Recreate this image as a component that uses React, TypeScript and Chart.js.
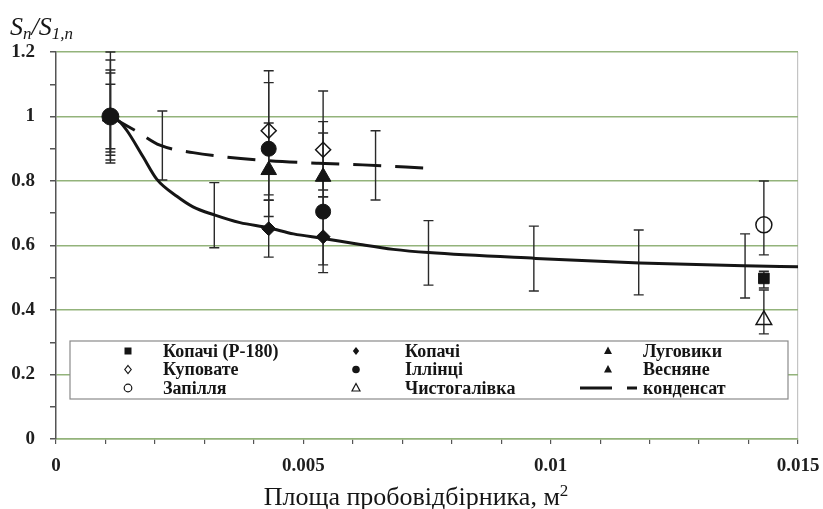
import React, { useEffect, useRef } from "react";
import { Chart, registerables } from "chart.js";
Chart.register(...registerables);

// ---------- data ----------
const seriesNames = [
  "Копачі (Р-180)", "Куповате", "Запілля",
  "Копачі", "Іллінці", "Чистогалівка",
  "Луговики", "Весняне", "конденсат",
];

const xTickLabelsEvery = 0.005;

const kopachiR180X = [0.01431];
const kopachiR180Y = [0.498];
const kopachiR180Lo = [0.468];
const kopachiR180Hi = [0.52];

const kupovateX = [0.0011, 0.0043, 0.0054];
const kupovateY = [1.0, 0.956, 0.897];
const kupovateLo = [0.9, 0.757, 0.772];
const kupovateHi = [1.1, 1.142, 1.079];

const zapilliaX = [0.01431];
const zapilliaY = [0.664];
const zapilliaLo = [0.571];
const zapilliaHi = [0.8];

const kopachiX = [0.0011, 0.0043, 0.0054];
const kopachiY = [1.0, 0.652, 0.627];
const kopachiLo = [0.865, 0.564, 0.516];
const kopachiHi = [1.144, 0.74, 0.751];

const illintsiX = [0.0011, 0.0043, 0.0054];
const illintsiY = [1.0, 0.9, 0.705];
const illintsiLo = [0.856, 0.741, 0.54];
const illintsiHi = [1.2, 1.105, 0.984];

const chystohalivkaX = [0.01431];
const chystohalivkaY = [0.369];
const chystohalivkaLo = [0.326];
const chystohalivkaHi = [0.462];

const luhovykyX = [0.0011, 0.0043];
const luhovykyY = [1.0, 0.834];
const luhovykyLo = [0.88, 0.69];
const luhovykyHi = [1.175, 0.98];

const vesnianeX = [0.0011, 0.0054];
const vesnianeY = [1.0, 0.813];
const vesnianeLo = [0.89, 0.751];
const vesnianeHi = [1.135, 0.949];

// condensate error bars on the solid curve
const condSolidBarX = [0.0032, 0.00753, 0.00966, 0.01178, 0.01393];
const condSolidBarY = [0.694, 0.577, 0.56, 0.547, 0.537];
const condSolidBarLo = [0.593, 0.477, 0.459, 0.447, 0.437];
const condSolidBarHi = [0.795, 0.677, 0.66, 0.648, 0.636];

// condensate error bars on the dashed curve
const condDashBarX = [0.00215, 0.00646];
const condDashBarY = [0.91, 0.848];
const condDashBarLo = [0.803, 0.741];
const condDashBarHi = [1.017, 0.956];

// solid trend curve
const solidCurveX = [0.0011, 0.00128, 0.00144, 0.00176, 0.00204, 0.00245, 0.00277, 0.0032, 0.00372, 0.0043, 0.0048, 0.0054, 0.00615, 0.00682, 0.00753, 0.0097, 0.0118, 0.0139, 0.015];
const solidCurveY = [1.0, 0.985, 0.955, 0.875, 0.805, 0.752, 0.72, 0.695, 0.671, 0.655, 0.636, 0.622, 0.603, 0.588, 0.578, 0.56, 0.546, 0.537, 0.534];

// dashed trend curve
const dashCurveX = [0.0011, 0.00164, 0.0021, 0.00277, 0.0034, 0.0043, 0.0053, 0.0062, 0.0075];
const dashCurveY = [1.0, 0.953, 0.911, 0.888, 0.875, 0.863, 0.855, 0.85, 0.84];

// ---------- styling ----------
const INK = "#151515";
const GRID = "#93b37b";
const FONT = "'Liberation Serif', 'DejaVu Serif', serif";

function pts(xs: number[], ys: number[]) {
  return xs.map((x, i) => ({ x, y: ys[i] }));
}

const errorBarPlugin = {
  id: "errorBars",
  beforeDatasetsDraw(chart: any) {
    const { ctx } = chart;
    const xs = chart.scales.x;
    const ys = chart.scales.y;
    ctx.save();
    ctx.strokeStyle = "#2a2a2a";
    ctx.lineWidth = 1.4;
    chart.data.datasets.forEach((ds: any) => {
      if (!ds.errLo) return;
      ds.data.forEach((p: any, i: number) => {
        const px = xs.getPixelForValue(p.x);
        const lo = ys.getPixelForValue(ds.errLo[i]);
        const hi = ys.getPixelForValue(ds.errHi[i]);
        ctx.beginPath();
        ctx.moveTo(px, lo);
        ctx.lineTo(px, hi);
        ctx.moveTo(px - 5, lo);
        ctx.lineTo(px + 5, lo);
        ctx.moveTo(px - 5, hi);
        ctx.lineTo(px + 5, hi);
        ctx.stroke();
      });
    });
    ctx.restore();
  },
};

function drawMarker(ctx: CanvasRenderingContext2D, kind: string, x: number, y: number) {
  ctx.save();
  ctx.fillStyle = INK;
  ctx.strokeStyle = INK;
  ctx.lineWidth = 1.2;
  ctx.beginPath();
  const r = 4;
  switch (kind) {
    case "square":
      ctx.rect(x - 3.5, y - 3.5, 7, 7);
      ctx.fill();
      break;
    case "diamond":
    case "odiamond":
      ctx.moveTo(x, y - r);
      ctx.lineTo(x + r * 0.8, y);
      ctx.lineTo(x, y + r);
      ctx.lineTo(x - r * 0.8, y);
      ctx.closePath();
      kind === "diamond" ? ctx.fill() : ctx.stroke();
      break;
    case "circle":
    case "ocircle":
      ctx.arc(x, y, 3.8, 0, Math.PI * 2);
      kind === "circle" ? ctx.fill() : ctx.stroke();
      break;
    case "triangle":
    case "otriangle":
      ctx.moveTo(x, y - 4.5);
      ctx.lineTo(x + 4, y + 3);
      ctx.lineTo(x - 4, y + 3);
      ctx.closePath();
      kind === "triangle" ? ctx.fill() : ctx.stroke();
      break;
    case "line":
      ctx.lineWidth = 3;
      ctx.moveTo(x - 28, y);
      ctx.lineTo(x + 4, y);
      ctx.moveTo(x + 19, y);
      ctx.lineTo(x + 29, y);
      ctx.stroke();
      break;
  }
  ctx.restore();
}

const legendKinds = ["square", "odiamond", "ocircle", "diamond", "circle", "otriangle", "triangle", "triangle", "line"];

const legendPlugin = {
  id: "boxLegend",
  afterDatasetsDraw(chart: any) {
    const { ctx } = chart;
    const left = 70, top = 341, right = 788, bottom = 399;
    ctx.save();
    ctx.fillStyle = "#ffffff";
    ctx.fillRect(left, top, right - left, bottom - top);
    ctx.strokeStyle = "#8a8a8a";
    ctx.lineWidth = 1.2;
    ctx.strokeRect(left, top, right - left, bottom - top);
    const markerX = [128, 356, 608];
    const textX = [163, 405, 643];
    const rowY = [351, 369.5, 388];
    ctx.font = `bold 18px ${FONT}`;
    ctx.fillStyle = INK;
    ctx.textBaseline = "middle";
    ctx.textAlign = "left";
    seriesNames.forEach((name, i) => {
      const col = Math.floor(i / 3);
      const row = i % 3;
      drawMarker(ctx, legendKinds[i], markerX[col], rowY[row]);
      ctx.fillStyle = INK;
      ctx.fillText(name, textX[col], rowY[row] + 1);
    });
    ctx.restore();
  },
};

export default function App() {
  const ref = useRef<HTMLCanvasElement | null>(null);

  useEffect(() => {
    document.body.style.margin = "0";
    document.body.style.overflow = "hidden";
    if (!ref.current) return;
    const filled = (label: string, xs: number[], ys: number[], lo: number[], hi: number[], style: string, radius: number | number[]) => ({
      label,
      data: pts(xs, ys),
      errLo: lo,
      errHi: hi,
      showLine: false,
      pointStyle: style,
      pointRadius: radius,
      pointBackgroundColor: INK,
      pointBorderColor: INK,
      pointBorderWidth: 1,
    });
    const open = (label: string, xs: number[], ys: number[], lo: number[], hi: number[], style: string, radius: number) => ({
      label,
      data: pts(xs, ys),
      errLo: lo,
      errHi: hi,
      showLine: false,
      pointStyle: style,
      pointRadius: radius,
      pointBackgroundColor: "rgba(255,255,255,0)",
      pointBorderColor: INK,
      pointBorderWidth: 1.5,
    });

    const chart = new Chart(ref.current, {
      type: "scatter",
      data: {
        datasets: [
          filled(seriesNames[4], illintsiX, illintsiY, illintsiLo, illintsiHi, "circle", [8.5, 7.5, 7.5]),
          filled(seriesNames[3], kopachiX, kopachiY, kopachiLo, kopachiHi, "rectRot", 7),
          filled(seriesNames[6], luhovykyX, luhovykyY, luhovykyLo, luhovykyHi, "triangle", 9),
          filled(seriesNames[7], vesnianeX, vesnianeY, vesnianeLo, vesnianeHi, "triangle", 9),
          open(seriesNames[1], kupovateX, kupovateY, kupovateLo, kupovateHi, "rectRot", 7.5),
          filled(seriesNames[0], kopachiR180X, kopachiR180Y, kopachiR180Lo, kopachiR180Hi, "rect", 7.5),
          open(seriesNames[2], zapilliaX, zapilliaY, zapilliaLo, zapilliaHi, "circle", 8),
          open(seriesNames[5], chystohalivkaX, chystohalivkaY, chystohalivkaLo, chystohalivkaHi, "triangle", 9),
          {
            label: seriesNames[8],
            data: pts(condSolidBarX, condSolidBarY),
            errLo: condSolidBarLo,
            errHi: condSolidBarHi,
            showLine: false,
            pointRadius: 0,
          } as any,
          {
            label: seriesNames[8],
            data: pts(condDashBarX, condDashBarY),
            errLo: condDashBarLo,
            errHi: condDashBarHi,
            showLine: false,
            pointRadius: 0,
          } as any,
          {
            label: seriesNames[8],
            data: pts(solidCurveX, solidCurveY),
            showLine: true,
            borderColor: INK,
            borderWidth: 3,
            pointRadius: 0,
            cubicInterpolationMode: "monotone",
          },
          {
            label: seriesNames[8],
            data: pts(dashCurveX, dashCurveY),
            showLine: true,
            borderColor: INK,
            borderWidth: 3,
            borderDash: [28, 14],
            pointRadius: 0,
            cubicInterpolationMode: "monotone",
          },
        ] as any,
      },
      options: {
        animation: false,
        responsive: true,
        maintainAspectRatio: false,
        layout: { padding: { top: 52, right: 25, left: 0, bottom: 0 } },
        plugins: { legend: { display: false }, tooltip: { enabled: false } },
        scales: {
          x: {
            type: "linear",
            min: 0,
            max: 0.015,
            afterFit: (s: any) => {
              s.height = 70;
              s.paddingRight = 0;
              s.paddingLeft = 0;
            },
            ticks: {
              stepSize: 0.001,
              autoSkip: false,
              maxRotation: 0,
              padding: 11,
              color: "#1e1e1e",
              font: { family: FONT, weight: "bold", size: 19 },
              callback: (v: any) => {
                const n = Math.round(Number(v) * 1000);
                const every = Math.round(xTickLabelsEvery * 1000);
                return n % every === 0 ? String(n / 1000) : "";
              },
            },
            grid: {
              drawOnChartArea: true,
              color: (c: any) => (c.tick && Math.abs(c.tick.value - 0.015) < 1e-9 ? "#c4c4c4" : "rgba(0,0,0,0)"),
              tickColor: "#555",
              tickLength: 5,
              lineWidth: 1.2,
            },
            border: { display: true, color: GRID, width: 1.5 },
          },
          y: {
            min: 0,
            max: 1.2,
            afterFit: (s: any) => {
              s.width = 56;
              s.paddingTop = 0;
              s.paddingBottom = 0;
            },
            ticks: {
              stepSize: 0.1,
              autoSkip: false,
              padding: 15,
              color: "#1e1e1e",
              font: { family: FONT, weight: "bold", size: 19 },
              callback: (v: any) => {
                const n = Math.round(Number(v) * 10);
                return n % 2 === 0 ? String(n / 10) : "";
              },
            },
            grid: {
              color: (c: any) => {
                const n = Math.round(c.tick ? c.tick.value * 10 : 1);
                return n % 2 === 0 ? GRID : "rgba(0,0,0,0)";
              },
              tickColor: "#555",
              tickLength: 6,
              lineWidth: 1.5,
            },
            border: { display: true, color: "#555", width: 1.5 },
          },
        },
      } as any,
      plugins: [errorBarPlugin, legendPlugin],
    });
    return () => chart.destroy();
  }, []);

  return (
    <div style={{ position: "relative", width: 823, height: 509, background: "#fff" }}>
      <canvas ref={ref} />
      <div
        style={{
          position: "absolute",
          left: 10,
          top: 14,
          fontFamily: FONT,
          fontStyle: "italic",
          fontSize: 26,
          lineHeight: "26px",
          color: INK,
          whiteSpace: "nowrap",
        }}
      >
        S<sub style={{ fontSize: 17, verticalAlign: "-4px" }}>n</sub>/S<sub style={{ fontSize: 17, verticalAlign: "-4px" }}>1,n</sub>
      </div>
      <div
        style={{
          position: "absolute",
          left: 0,
          width: 832,
          top: 478,
          textAlign: "center",
          fontFamily: FONT,
          fontSize: 26,
          lineHeight: "26px",
          color: INK,
          whiteSpace: "nowrap",
        }}
      >
        Площа пробовідбірника, м<sup style={{ fontSize: 17, verticalAlign: "9px" }}>2</sup>
      </div>
    </div>
  );
}
